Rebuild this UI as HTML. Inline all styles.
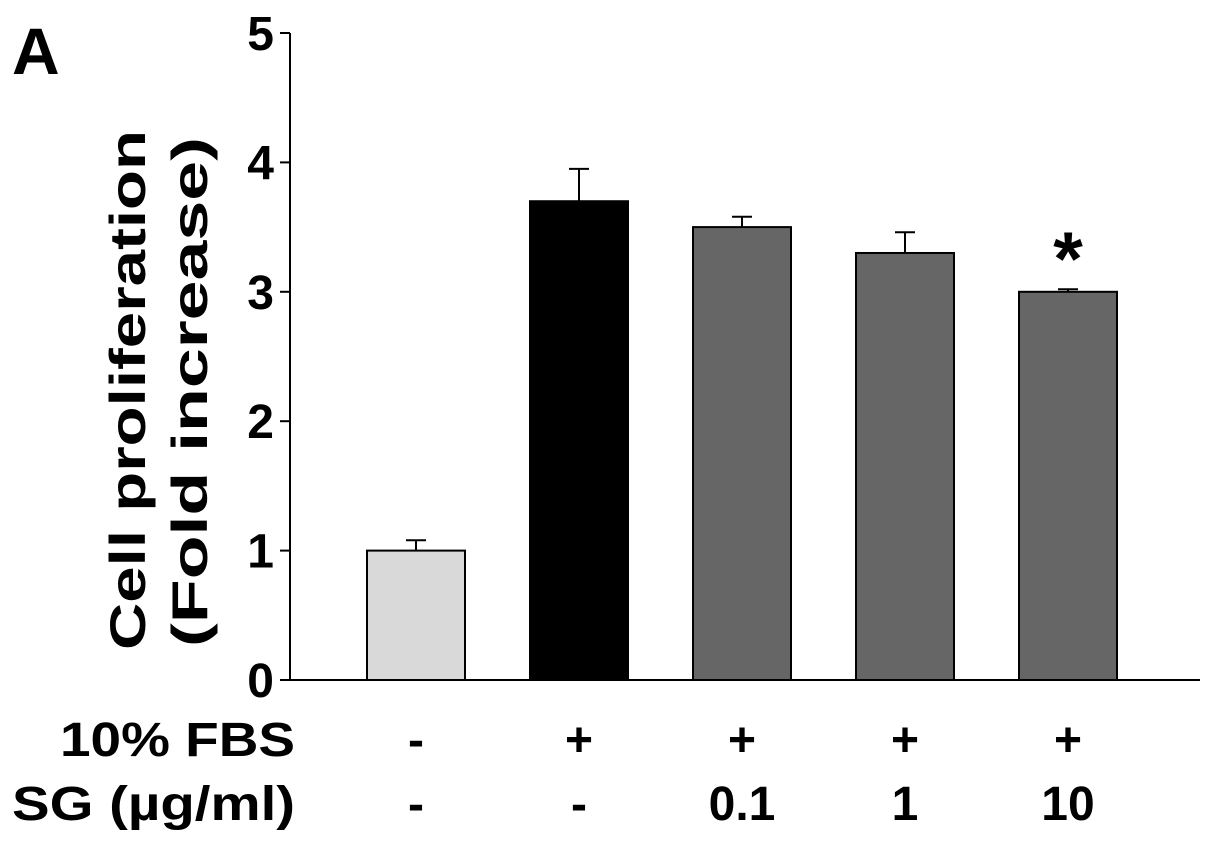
<!DOCTYPE html>
<html><head><meta charset="utf-8"><style>
body{margin:0;background:#fff;}
svg text{font-family:"Liberation Sans",Arial,sans-serif;font-weight:bold;fill:#000;}
</style></head><body>
<svg id="chart" width="1205" height="846" viewBox="0 0 1205 846" xmlns="http://www.w3.org/2000/svg">
<text x="12" y="74" font-size="66">A</text>
<g id="yaxis"></g><g id="bars"></g><g id="xlabels"></g>
<text transform="translate(145,390) rotate(-90)" text-anchor="middle" font-size="50" textLength="520" lengthAdjust="spacingAndGlyphs">Cell proliferation</text>
<text transform="translate(207,392) rotate(-90)" text-anchor="middle" font-size="50" textLength="510" lengthAdjust="spacingAndGlyphs">(Fold increase)</text>
<text x="60" y="756" font-size="48" textLength="235" lengthAdjust="spacingAndGlyphs">10% FBS</text>
<text x="12" y="820" font-size="48" textLength="283" lengthAdjust="spacingAndGlyphs">SG (µg/ml)</text>
</svg>
<script>
const categories=["ctrl","FBS","SG0.1","SG1","SG10"];
const values=[1.0,3.7,3.5,3.3,3.0];
const errors=[0.08,0.25,0.08,0.16,0.02];
const fbsLabels=["-","+","+","+","+"];
const sgLabels=["-","-","0.1","1","10"];
const significance=["","","","","*"];
const yTicks=[0,1,2,3,4,5];
const colors=["#d9d9d9","#000000","#666666","#666666","#666666"];
const NS="http://www.w3.org/2000/svg";
const y0=680,y1=33,ax=290;
function y(v){return y0-(v-0)/(5-0)*(y0-y1);}
function xc(i){return 416+i*163;}
function mk(p,tag,attrs){const e=document.createElementNS(NS,tag);for(const k in attrs)e.setAttribute(k,attrs[k]);p.appendChild(e);return e;}
const ya=document.getElementById('yaxis');
let l=mk(ya,'line',{x1:ax,y1:y1,x2:ax,y2:y0,stroke:'#000','stroke-width':2});


l=mk(ya,'line',{x1:ax,y1:y0,x2:1200,y2:y0,stroke:'#000','stroke-width':2});


yTicks.forEach(t=>{
 const tk=mk(ya,'line',{x1:ax-10,y1:y(t),x2:ax,y2:y(t),stroke:'#000','stroke-width':2});
 
 
 const tx=mk(ya,'text',{x:274,y:y(t)+17,'text-anchor':'end','font-size':48});
 tx.textContent=t;
 
 
});
const bg=document.getElementById('bars');
const xl=document.getElementById('xlabels');
values.forEach((v,i)=>{
 const c=xc(i),w=98;
 const r=mk(bg,'rect',{x:c-w/2,y:y(v),width:w,height:y0-y(v),fill:colors[i],stroke:'#000','stroke-width':2});
 
 
 const e=mk(bg,'path',{d:`M${c} ${y(v)}V${y(v+errors[i])}M${c-10} ${y(v+errors[i])}H${c+10}`,stroke:'#000','stroke-width':2,fill:'none'});
 
 
 if(significance[i]){
  const s=mk(bg,'text',{x:c,y:y(v+errors[i])-4,'text-anchor':'middle','font-size':76});
  s.textContent=significance[i];
  
  
 }
 const a=mk(xl,'text',{x:c,y:756,'text-anchor':'middle','font-size':48});
 a.textContent=fbsLabels[i];
 
 
 const b=mk(xl,'text',{x:c,y:820,'text-anchor':'middle','font-size':48});
 b.textContent=sgLabels[i];
 
 
});
</script>
</body></html>
